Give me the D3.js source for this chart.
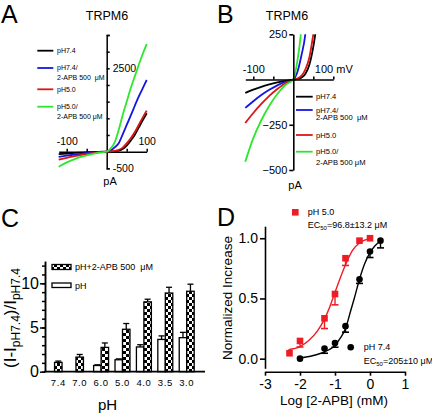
<!DOCTYPE html>
<html><head><meta charset="utf-8">
<script src="https://cdn.jsdelivr.net/npm/d3@7"></script>
<style>
body{margin:0;background:#fff}
svg{display:block}
text{font-family:"Liberation Sans",Arial,Helvetica,sans-serif;fill:#000}
</style>
</head><body>
<svg id="chart" width="432" height="413"></svg>
<script>
// ---------- Data: panels A & B (I-V curves, pA vs mV) ----------
const ivVoltage = [-120,-100,-80,-60,-40,-20,0,10,20,30,40,50,60,70,80,90,100];
const ivPH74     = [-74,-56,-40,-27,-16,-7,0,3,10,30,80,180,330,500,720,940,1150];
const ivPH74APB  = [-157,-120,-86,-57,-32,-13,0,40,130,250,520,800,1080,1370,1650,1900,2150];
const ivPH50     = [-240,-185,-135,-90,-52,-20,0,5,20,55,120,250,400,580,800,1020,1230];
const ivPH50APB  = [-454,-324,-225,-145,-80,-30,0,100,280,650,1100,1500,1900,2250,2600,2930,3230];
const ivSeriesNames = ["pH7.4","pH7.4/ 2-APB 500  μM","pH5.0","pH5.0/ 2-APB 500 μM"];
const ivColors = ["#000000","#1515e0","#dd1515","#2ee62e"];
const ivYTicksA = [-500,0,500,1000,1500,2000,2500,3000,3500];
const ivYLabelsA = [2500,-500];
const ivXTicks = [-100,-50,50,100];
const ivYTicksB = [250,-250,-500];

// ---------- Data: panel C (bars) ----------
const phCategories = ["7.4","7.0","6.0","5.0","4.0","3.5","3.0"];
const phOnly      = [null,null,0.7,1.35,2.8,3.65,3.85];
const phOnlyErr   = [null,null,0.08,0.1,0.25,0.4,0.6];
const phAPB       = [1.05,1.65,2.75,4.8,7.9,8.9,9.1];
const phAPBErr    = [0.15,0.3,0.5,0.65,0.3,0.65,0.8];
const cMajorTicks = [0,5,10];

// ---------- Data: panel D (dose response) ----------
const logConc50 = [-2.3,-2,-1.3,-1,-0.7,-0.3,0];
const resp50    = [0.045,0.147,0.335,0.537,0.834,0.98,1.0];
const err50     = [0,0.05,0.085,0.09,0.06,0,0];
const logConc74 = [-2,-1.3,-1,-0.7,-0.3,0,0.3];
const resp74    = [0.0,0.085,0.13,0.27,0.66,0.89,0.98];
const err74     = [0,0.04,0.035,0.05,0.035,0.05,0.06];
const fit50X = [-2.33,-2.0,-1.75,-1.5,-1.3,-1.15,-1.0,-0.85,-0.7,-0.5,-0.3,-0.15,0];
const fit50Y = [0.075,0.1,0.15,0.23,0.33,0.43,0.55,0.67,0.78,0.9,0.96,0.985,0.995];
const fit74X = [-2,-1.7,-1.4,-1.2,-1.0,-0.85,-0.7,-0.55,-0.45,-0.3,-0.15,0,0.15,0.3];
const fit74Y = [0.005,0.02,0.045,0.07,0.11,0.17,0.25,0.4,0.5,0.66,0.79,0.88,0.94,0.975];
const dXTicks = [-3,-2,-1,0,1];
const dYTicks = [0,0.5,1];

const FONT = '"Liberation Sans",Arial,sans-serif';
const svg = d3.select("#chart");

// panel letters
svg.selectAll("text.letter").data([["A",1,22.8],["B",217,22.8],["C",1,227],["D",217,225.5]])
  .join("text").attr("class","letter").attr("x",d=>d[1]).attr("y",d=>d[2])
  .attr("font-size",25).text(d=>d[0]);

const ivAll = [ivPH74, ivPH74APB, ivPH50, ivPH50APB];

function styleAxis(g, w){
  g.selectAll("path.domain").attr("stroke","#000").attr("stroke-width",w);
  g.selectAll(".tick line").attr("stroke","#000").attr("stroke-width",w);
  g.selectAll("text").attr("fill","#000").attr("font-family",FONT);
}

// ================= Panel A =================
{
  const g = svg.append("g");
  const x = d3.scaleLinear([-120,100],[58.7,146.7]);
  const y = d3.scaleLinear([-500,3500],[168.3,35]);
  g.append("text").attr("x",107).attr("y",19.5).attr("text-anchor","middle").attr("font-size",12.5).text("TRPM6");
  const ya = g.append("g").attr("transform",`translate(${x(0)},0)`)
    .call(d3.axisRight(y).tickValues(ivYTicksA).tickSize(3).tickSizeOuter(3).tickPadding(3)
      .tickFormat(d=> ivYLabelsA.includes(d)? String(d):""));
  ya.selectAll("text").attr("font-size",10.5);
  styleAxis(ya,1.5);
  const xa = g.append("g").attr("transform",`translate(0,${y(0)})`)
    .call(d3.axisTop(x).tickValues(ivXTicks).tickSize(3).tickSizeOuter(0).tickPadding(4)
      .tickFormat(d=> Math.abs(d)===100? String(d):""));
  xa.selectAll("text").attr("font-size",10.5);
  styleAxis(xa,1.5);
  g.append("text").attr("x",110).attr("y",185).attr("text-anchor","middle").attr("font-size",11).text("pA");
  const line = d3.line().x((d,i)=>x(ivVoltage[i])).y(d=>y(d)).curve(d3.curveMonotoneX);
  g.selectAll("path.iv").data(ivAll).join("path").attr("class","iv")
    .attr("d",line).attr("fill","none").attr("stroke",(d,i)=>ivColors[i]).attr("stroke-width",1.8);
  // legend
  const legY = [50.7,68,89.3,106.7];
  ivSeriesNames.forEach((name,i)=>{
    g.append("line").attr("x1",37.3).attr("x2",53.3).attr("y1",legY[i]).attr("y2",legY[i])
      .attr("stroke",ivColors[i]).attr("stroke-width",1.8);
    const parts = name.split("/ ");
    const t = g.append("text").attr("x",57).attr("y",legY[i]).attr("dy","0.35em").attr("font-size",7);
    t.text(parts.length>1? parts[0]+"/": parts[0]);
    if(parts.length>1){
      g.append("text").attr("x",57).attr("y",legY[i]+9.5).attr("dy","0.35em").attr("font-size",7).attr("xml:space","preserve").text(parts[1]);
    }
  });
}

// ================= Panel B =================
{
  const g = svg.append("g");
  const x = d3.scaleLinear([-120,100],[245.3,333.3]);
  const y = d3.scaleLinear([-500,250],[170,34.3]);
  g.append("text").attr("x",287).attr("y",19.5).attr("text-anchor","middle").attr("font-size",12.5).text("TRPM6");
  svg.append("defs").append("clipPath").attr("id","clipB").append("rect")
    .attr("x",x(-125)).attr("y",y(250)).attr("width",x(100)-x(-125)+3).attr("height",y(-500)-y(250));
  const line = d3.line().x((d,i)=>x(ivVoltage[i])).y(d=>y(d)).curve(d3.curveMonotoneX);
  g.append("g").attr("clip-path","url(#clipB)").selectAll("path").data(ivAll).join("path")
    .attr("d",line).attr("fill","none").attr("stroke",(d,i)=>ivColors[i]).attr("stroke-width",1.8);
  const ya = g.append("g").attr("transform",`translate(${x(0)},0)`)
    .call(d3.axisLeft(y).tickValues(ivYTicksB).tickSize(4).tickSizeOuter(0).tickPadding(2));
  ya.selectAll("text").attr("font-size",11);
  styleAxis(ya,1.6);
  const xa = g.append("g").attr("transform",`translate(0,${y(0)})`)
    .call(d3.axisTop(x).tickValues(ivXTicks).tickSize(3).tickSizeOuter(0).tickPadding(4)
      .tickFormat(d=> d===100? "100 mV" : d===-100 ? "-100" : ""));
  xa.selectAll("text").attr("font-size",11);
  styleAxis(xa,1.6);
  g.append("text").attr("x",295).attr("y",189).attr("text-anchor","middle").attr("font-size",11).text("pA");
  const legY = [96.7,110,135,151.7];
  const legY2 = [0,117.6,0,162.3];
  ivSeriesNames.forEach((name,i)=>{
    g.append("line").attr("x1",296).attr("x2",312.7).attr("y1",legY[i]).attr("y2",legY[i])
      .attr("stroke",ivColors[i]).attr("stroke-width",1.8);
    const parts = name.split("/ ");
    g.append("text").attr("x",316).attr("y",legY[i]).attr("dy","0.35em").attr("font-size",7.6)
      .text(parts.length>1? parts[0]+"/": parts[0]);
    if(parts.length>1){
      g.append("text").attr("x",316).attr("y",legY2[i]).attr("dy","0.35em").attr("font-size",7.6).attr("xml:space","preserve").text(parts[1]);
    }
  });
}

// ================= Panel C =================
{
  const g = svg.append("g");
  const defs = svg.append("defs");
  const pat = defs.append("pattern").attr("id","checker").attr("patternUnits","userSpaceOnUse")
    .attr("width",6).attr("height",6);
  pat.append("rect").attr("width",6).attr("height",6).attr("fill","#fff");
  pat.append("rect").attr("width",3).attr("height",3).attr("fill","#000");
  pat.append("rect").attr("x",3).attr("y",3).attr("width",3).attr("height",3).attr("fill","#000");

  const x = d3.scaleBand(phCategories,[47.6,197.4]);
  const sub = d3.scaleBand(["ph","apb"],[0,x.bandwidth()]).paddingOuter(0.43);
  const y = d3.scaleLinear([0,12.5],[371.7,261.2]);
  const bw = sub.bandwidth();

  const barX = (i,key)=>{
    if(phOnly[i]===null) return x(phCategories[i]) + x.bandwidth()/2 - bw/2;
    return x(phCategories[i]) + sub(key);
  };
  const bars = [];
  phCategories.forEach((c,i)=>{
    if(phOnly[i]!==null) bars.push({i,key:"ph",v:phOnly[i],e:phOnlyErr[i]});
    bars.push({i,key:"apb",v:phAPB[i],e:phAPBErr[i]});
  });
  g.selectAll("line.err").data(bars).join("line").attr("class","err")
    .attr("x1",d=>barX(d.i,d.key)+bw/2).attr("x2",d=>barX(d.i,d.key)+bw/2)
    .attr("y1",d=>y(d.v)).attr("y2",d=>y(d.v+d.e)).attr("stroke","#000").attr("stroke-width",1.3);
  g.selectAll("line.cap").data(bars).join("line").attr("class","cap")
    .attr("x1",d=>barX(d.i,d.key)+bw/2-3).attr("x2",d=>barX(d.i,d.key)+bw/2+3)
    .attr("y1",d=>y(d.v+d.e)).attr("y2",d=>y(d.v+d.e)).attr("stroke","#000").attr("stroke-width",1.3);
  g.selectAll("rect.bar").data(bars).join("rect").attr("class","bar")
    .attr("x",d=>barX(d.i,d.key)).attr("width",bw)
    .attr("y",d=>y(d.v)).attr("height",d=>y(0)-y(d.v))
    .attr("fill",d=>d.key==="apb"?"url(#checker)":"#fff")
    .attr("stroke","#000").attr("stroke-width",1.3);

  const yMinor = g.append("g").attr("transform","translate(45,0)")
    .call(d3.axisLeft(y).tickValues(d3.range(0,13,1)).tickSize(3).tickSizeOuter(0).tickFormat(""));
  styleAxis(yMinor,1.5);
  const yMajor = g.append("g").attr("transform","translate(45,0)")
    .call(d3.axisLeft(y).tickValues(cMajorTicks).tickSize(5).tickSizeOuter(0).tickPadding(1));
  yMajor.selectAll("text").attr("font-size",16);
  styleAxis(yMajor,1.5);
  g.append("line").attr("x1",44.2).attr("x2",205).attr("y1",y(0)).attr("y2",y(0)).attr("stroke","#000").attr("stroke-width",1.8);
  const xa = g.append("g").attr("transform",`translate(0,${y(0)})`)
    .call(d3.axisBottom(x).tickSize(0).tickPadding(8));
  xa.select("path.domain").remove();
  xa.selectAll("text").attr("font-size",9.5).attr("letter-spacing",0.6);
  styleAxis(xa,1.5);
  g.append("text").attr("x",107.5).attr("y",410).attr("text-anchor","middle").attr("font-size",15).text("pH");
  const yl = g.append("text").attr("transform","translate(16,318) rotate(-90)").attr("text-anchor","middle").attr("font-size",17);
  yl.append("tspan").text("(I-I");
  yl.append("tspan").attr("font-size",12).attr("dy",4).text("pH7.4");
  yl.append("tspan").attr("dy",-4).text(")/I");
  yl.append("tspan").attr("font-size",12).attr("dy",4).text("pH7.4");
  g.append("rect").attr("x",52).attr("y",264.5).attr("width",19).attr("height",5).attr("fill","url(#checker)").attr("stroke","#000").attr("stroke-width",1.3);
  g.append("text").attr("x",75).attr("y",267).attr("dy","0.35em").attr("font-size",9).attr("xml:space","preserve").text("pH+2-APB 500  μM");
  g.append("rect").attr("x",52).attr("y",283).attr("width",19).attr("height",4.5).attr("fill","#fff").attr("stroke","#000").attr("stroke-width",1.3);
  g.append("text").attr("x",75).attr("y",285.5).attr("dy","0.35em").attr("font-size",9).text("pH");
}

// ================= Panel D =================
{
  const g = svg.append("g");
  const red = "#ee1c24";
  const x = d3.scaleLinear([-3,1],[265,405]);
  const y = d3.scaleLinear([-0.08,1.1],[368.3,226.2]);
  const ya = g.append("g").attr("transform","translate(265,0)")
    .call(d3.axisLeft(y).tickValues(dYTicks).tickSize(5).tickSizeOuter(0).tickPadding(2).tickFormat(d3.format(".1f")));
  ya.selectAll("text").attr("font-size",14);
  styleAxis(ya,1.6);
  const xa = g.append("g").attr("transform","translate(0,371.7)")
    .call(d3.axisBottom(x).tickValues(dXTicks).tickSize(4).tickSizeOuter(0).tickPadding(3).tickFormat(d=>String(d)));
  xa.selectAll("text").attr("font-size",14);
  styleAxis(xa,1.6);
  g.append("text").attr("x",334).attr("y",405).attr("text-anchor","middle").attr("font-size",13.5).text("Log [2-APB] (mM)");
  g.append("text").attr("transform","translate(232,298) rotate(-90)").attr("text-anchor","middle").attr("font-size",13.5).text("Normalized Increase");

  const fitLine = d3.line().x(d=>x(d[0])).y(d=>y(d[1])).curve(d3.curveMonotoneX);
  g.append("path").attr("d",fitLine(fit50X.map((v,i)=>[v,fit50Y[i]]))).attr("fill","none").attr("stroke",red).attr("stroke-width",1.4);
  g.append("path").attr("d",fitLine(fit74X.map((v,i)=>[v,fit74Y[i]]))).attr("fill","none").attr("stroke","#000").attr("stroke-width",1.4);

  function errBars(xs,ys,es,col){
    const d = xs.map((v,i)=>({x:v,y:ys[i],e:es[i]})).filter(d=>d.e>0);
    g.append("g").selectAll("line").data(d).join("line")
      .attr("x1",d=>x(d.x)).attr("x2",d=>x(d.x)).attr("y1",d=>y(d.y)).attr("y2",d=>y(d.y-d.e))
      .attr("stroke",col).attr("stroke-width",1.4);
    g.append("g").selectAll("line").data(d).join("line")
      .attr("x1",d=>x(d.x)-3.5).attr("x2",d=>x(d.x)+3.5).attr("y1",d=>y(d.y-d.e)).attr("y2",d=>y(d.y-d.e))
      .attr("stroke",col).attr("stroke-width",1.6);
  }
  errBars(logConc50,resp50,err50,red);
  errBars(logConc74,resp74,err74,"#000");
  g.append("g").selectAll("rect").data(logConc50.map((v,i)=>[v,resp50[i]])).join("rect")
    .attr("x",d=>x(d[0])-3.3).attr("y",d=>y(d[1])-3.3).attr("width",6.6).attr("height",6.6).attr("fill",red);
  g.append("g").selectAll("circle").data(logConc74.map((v,i)=>[v,resp74[i]])).join("circle")
    .attr("cx",d=>x(d[0])).attr("cy",d=>y(d[1])).attr("r",3.3).attr("fill","#000");

  g.append("rect").attr("x",295.3-3.3).attr("y",212.3-3.3).attr("width",6.6).attr("height",6.6).attr("fill",red);
  g.append("text").attr("x",307.7).attr("y",212.3).attr("dy","0.35em").attr("font-size",9).text("pH 5.0");
  const t1 = g.append("text").attr("x",307.7).attr("y",225).attr("dy","0.35em").attr("font-size",9);
  t1.append("tspan").text("EC");
  t1.append("tspan").attr("font-size",6).attr("dy",2).text("50");
  t1.append("tspan").attr("dy",-2).text("=96.8±13.2 μM");
  g.append("circle").attr("cx",350.7).attr("cy",347.3).attr("r",3.3).attr("fill","#000");
  g.append("text").attr("x",363.7).attr("y",346.7).attr("dy","0.35em").attr("font-size",9).text("pH 7.4");
  const t2 = g.append("text").attr("x",363.7).attr("y",360.7).attr("dy","0.35em").attr("font-size",9);
  t2.append("tspan").text("EC");
  t2.append("tspan").attr("font-size",6).attr("dy",2).text("50");
  t2.append("tspan").attr("dy",-2).text("=205±10 μM");
}
</script>
</body></html>
